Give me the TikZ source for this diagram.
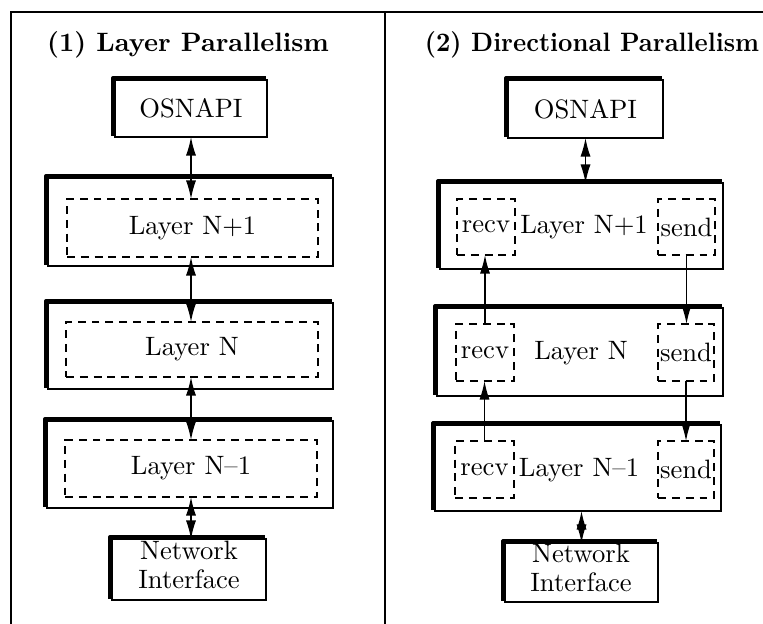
\documentclass[tikz,border=0pt]{standalone}
\usetikzlibrary{arrows.meta}

% Place a rectangular node by its corner coordinates (x1,y1)-(x2,y2)
\newcommand\rectnode[7]{%
  \node[#6, minimum width={(#4-#2)*0.376pt}, minimum height={(#5-#3)*0.376pt}]
    (#1) at ({(#2+#4)/2},{(#3+#5)/2}) {#7};}
% Heavy left and top border of a layer box
\newcommand\heavyedge[1]{%
  \draw[line width=1.4pt, line join=round]
    ([xshift=-0.7pt,yshift=0.4pt]#1.south west) --
    ([xshift=-0.7pt,yshift=0.7pt]#1.north west) --
    ([xshift=-0.4pt,yshift=0.7pt]#1.north east);}

\tikzset{
  layerbox/.style={draw, line width=0.45pt, inner sep=0pt, outer sep=0pt, fill=white},
  dashbox/.style={draw, line width=0.5pt, dash pattern=on 3pt off 2.2pt, inner sep=0pt, outer sep=0pt},
  tip/.tip={Latex[length=7pt,width=3.8pt]},
  arr/.style={line width=0.5pt, -tip},
  darr/.style={line width=0.5pt, tip-tip},
  title/.style={font=\bfseries, inner sep=0pt},
  label/.style={inner sep=0pt},
}

\begin{document}
\begin{tikzpicture}[x=0.376pt,y=-0.376pt]
\useasboundingbox (0,0) rectangle (763,624);

% frame and divider
\draw[line width=0.5pt] (11,624) -- (11,12) -- (763,12);
\draw[line width=0.5pt] (385,12) -- (385,624);

% ---------- (1) Layer Parallelism ----------
\node[title] (tL) at (188,45) {(1) Layer Parallelism};

\rectnode{osL}{115}{80}{267}{137}{layerbox}{OSNAPI}
\rectnode{L1}{48}{178}{333}{266}{layerbox}{}
\rectnode{dL1}{67}{199}{318}{257}{dashbox}{Layer N+1}
\rectnode{L2}{48}{303}{333}{389}{layerbox}{}
\rectnode{dL2}{66}{322}{318}{377}{dashbox}{Layer N}
\rectnode{L3}{47}{421}{333}{508}{layerbox}{}
\rectnode{dL3}{65}{440}{317}{497}{dashbox}{Layer N--1}
\rectnode{niL}{112}{539}{266}{600}{layerbox}{}
\node[label, align=center] (niLt) at (189,565) {Network\\[-1pt]Interface};

\foreach \b in {osL,L1,L2,L3,niL} {\heavyedge{\b}}

\draw[darr] (osL.south) -- (osL.south |- dL1.north);
\draw[darr] (osL.south |- dL1.south) -- (osL.south |- dL2.north);
\draw[darr] (osL.south |- dL2.south) -- (osL.south |- dL3.north);
\draw[darr] (osL.south |- dL3.south) -- (osL.south |- niL.north);

% ---------- (2) Directional Parallelism ----------
\node[title] (tR) at (592,45) {\scalebox{0.94}[1]{(2) Directional Parallelism}};

\rectnode{osR}{508}{80}{663}{138}{layerbox}{OSNAPI}
\rectnode{R1}{440}{183}{723}{269}{layerbox}{}
\rectnode{R2}{437}{308}{723}{396}{layerbox}{}
\rectnode{R3}{435}{425}{721}{511}{layerbox}{}
\rectnode{niR}{505}{543}{658}{602}{layerbox}{}
\node[label, align=center] (niRt) at (581,568) {Network\\[-1pt]Interface};

\foreach \b in {osR,R1,R2,R3,niR} {\heavyedge{\b}}

\node[label] (R1t) at (584,227) {Layer N+1};
\node[label] (R2t) at (581,353) {Layer N};
\node[label] (R3t) at (579,470) {Layer N--1};

\rectnode{rv1}{457}{199}{515}{255}{dashbox}{recv}
\rectnode{sd1}{658}{199}{715}{255}{dashbox}{send}
\rectnode{rv2}{456}{324}{514}{381}{dashbox}{recv}
\rectnode{sd2}{658}{324}{714}{381}{dashbox}{send}
\rectnode{rv3}{455}{441}{514}{498}{dashbox}{recv}
\rectnode{sd3}{658}{441}{714}{498}{dashbox}{send}

\draw[darr] (osR.south) -- (osR.south |- R1.north);
\draw[arr] (rv2.north) -- (rv2.north |- rv1.south);
\draw[arr] (sd1.south) -- (sd1.south |- sd2.north);
\draw[arr] (rv3.north) -- (rv3.north |- rv2.south);
\draw[arr] (sd2.south) -- (sd2.south |- sd3.north);
\draw[darr] (niR.north |- R3.south) -- (niR.north);
\end{tikzpicture}
\end{document}
